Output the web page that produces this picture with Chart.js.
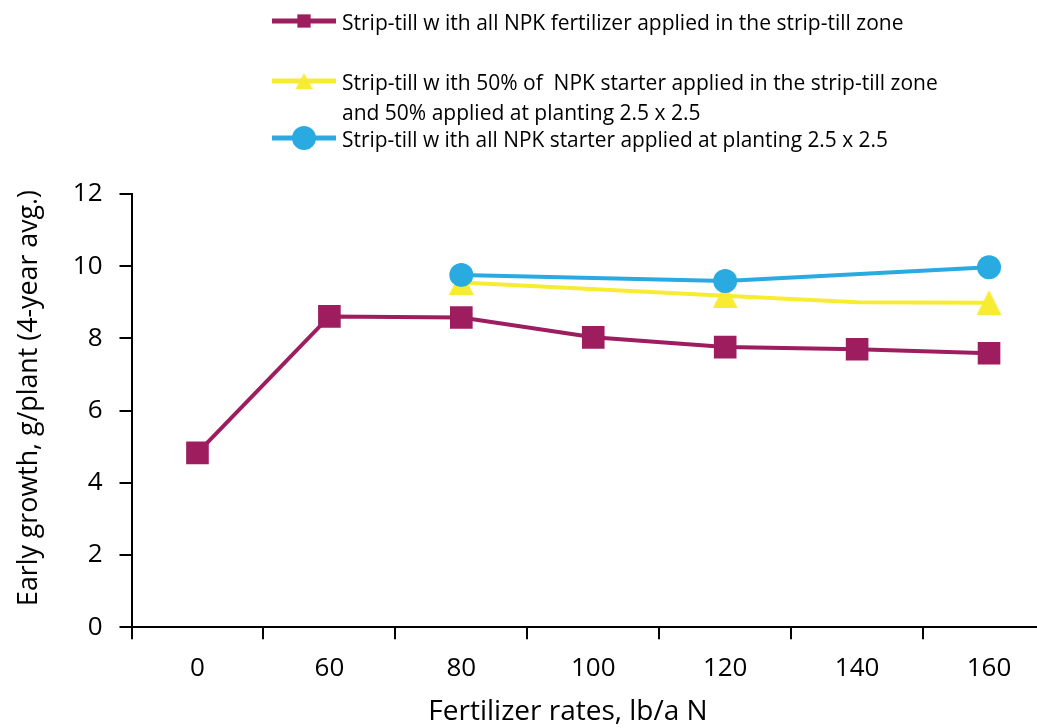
<!DOCTYPE html>
<html>
<head>
<meta charset="utf-8">
<script src="https://cdn.jsdelivr.net/npm/chart.js@4.4.1/dist/chart.umd.min.js"></script>
<style>
  html, body { margin:0; padding:0; background:#fff; overflow:hidden; }
  #wrap { width:1071px; height:728px; position:relative; }
  #grafico { display:block; }
</style>
</head>
<body>
<div id="wrap"><canvas id="grafico" width="1071" height="728"></canvas></div>
<script>
// ===== DADOS =====
const rates = ["0","60","80","100","120","140","160"];
const yTicks = [0,2,4,6,8,10,12];

const stripTillAll  = [4.83, 8.61, 8.58, 8.03, 7.76, 7.70, 7.59];
const stripTillHalf = [null, null, 9.55, null, 9.18, 9.00, 8.99];
const plantingAll   = [null, null, 9.76, null, 9.59, null, 9.97];

const legendLines = [
  ["Strip-till w ith all NPK fertilizer applied in the strip-till zone"],
  ["Strip-till w ith 50% of  NPK starter applied in the strip-till zone", "and 50% applied at planting 2.5 x 2.5"],
  ["Strip-till w ith all NPK starter applied at planting 2.5 x 2.5"]
];
const xTitle = "Fertilizer rates, lb/a N";
const yTitle = "Early growth, g/plant (4-year avg.)";

const ROXO = "#9d1d5f";
const AMARELO = "#f7ec31";
const AZUL = "#29abe2";
const FONTE = "'Open Sans', 'Noto Sans', sans-serif";

// triangulo um pouco mais alto que o padrao do Chart.js
function triangulo(w, h, cor){
  const c = document.createElement("canvas");
  c.width = w; c.height = h;
  const ctx = c.getContext("2d");
  ctx.fillStyle = cor;
  ctx.beginPath();
  ctx.moveTo(w/2, 0);
  ctx.lineTo(w, h);
  ctx.lineTo(0, h);
  ctx.closePath();
  ctx.fill();
  return c;
}

const triGrande = triangulo(25, 25, AMARELO);
const triPequeno = triangulo(17, 16, AMARELO);

// ===== LEGENDA E TITULOS =====
const textos = {
  id: "textos",
  afterDraw(chart){
    const ctx = chart.ctx;
    const itens = [
      { cor: ROXO,    y: 21,  base: 30,  larg: [563],      ponto: { pointStyle:"rect", radius:9.4, borderWidth:0 } },
      { cor: AMARELO, y: 81,  base: 90,  larg: [601, 376], ponto: { pointStyle:triPequeno, radius:8, borderWidth:0 } },
      { cor: AZUL,    y: 138, base: 147, larg: [546],      ponto: { pointStyle:"circle", radius:12, borderWidth:0 } }
    ];

    ctx.save();
    itens.forEach((it, i) => {
      ctx.strokeStyle = it.cor;
      ctx.lineWidth = 5;
      ctx.beginPath();
      ctx.moveTo(272, it.y);
      ctx.lineTo(336, it.y);
      ctx.stroke();

      ctx.fillStyle = it.cor;
      Chart.helpers.drawPoint(ctx, it.ponto, 304, it.y);

      ctx.fillStyle = "#000";
      ctx.font = "21px " + FONTE;
      ctx.textAlign = "left";
      ctx.textBaseline = "alphabetic";
      legendLines[i].forEach((txt, j) => {
        ctx.fillText(txt, 342, it.base + j*30, it.larg[j]);
      });
    });

    ctx.fillStyle = "#000";
    ctx.font = "28px " + FONTE;
    ctx.textAlign = "center";
    ctx.textBaseline = "middle";
    ctx.fillText(xTitle, 568, 712, 300);

    ctx.translate(29, 398);
    ctx.rotate(-Math.PI/2);
    ctx.fillText(yTitle, 0, 0, 416);
    ctx.restore();
  }
};

// ===== GRAFICO =====
new Chart(document.getElementById("grafico"), {
  type: "line",
  data: {
    labels: rates,
    datasets: [
      {
        label: legendLines[0][0],
        data: stripTillAll,
        borderColor: ROXO,
        backgroundColor: ROXO,
        borderWidth: 4,
        pointStyle: "rect",
        pointRadius: 16,
        pointBorderWidth: 0,
        order: 2
      },
      {
        label: legendLines[1].join(" "),
        data: stripTillHalf,
        borderColor: AMARELO,
        backgroundColor: AMARELO,
        borderWidth: 4,
        pointStyle: triGrande,
        pointRadius: [0,0,12,0,12,0,12],
        pointBorderWidth: 0,
        spanGaps: true,
        order: 1
      },
      {
        label: legendLines[2][0],
        data: plantingAll,
        borderColor: AZUL,
        backgroundColor: AZUL,
        borderWidth: 4,
        pointStyle: "circle",
        pointRadius: 12,
        pointBorderWidth: 0,
        spanGaps: true,
        order: 0
      }
    ]
  },
  options: {
    responsive: false,
    maintainAspectRatio: false,
    animation: false,
    devicePixelRatio: 1,
    layout: { padding: { top: 194, right: 6, bottom: 0, left: 0 } },
    plugins: {
      legend: { display: false },
      tooltip: { enabled: false }
    },
    scales: {
      x: {
        type: "category",
        offset: true,
        grid: { offset: true, drawOnChartArea: false, tickLength: 12, color: "#000", lineWidth: 2 },
        border: { color: "#000", width: 2 },
        ticks: { color: "#000", font: { family: FONTE, size: 26 }, padding: 14, maxRotation: 0, autoSkip: false },
        afterFit(scale){ scale.height = 100.7; }
      },
      y: {
        min: 0,
        max: 12,
        afterBuildTicks(scale){ scale.ticks = yTicks.map(v => ({ value: v })); },
        grid: { drawOnChartArea: false, tickLength: 12, color: "#000", lineWidth: 2 },
        border: { color: "#000", width: 2 },
        ticks: { color: "#000", font: { family: FONTE, size: 26 }, padding: 17 },
        afterFit(scale){ scale.width = 131.5; }
      }
    }
  },
  plugins: [textos]
});
</script>
</body>
</html>
